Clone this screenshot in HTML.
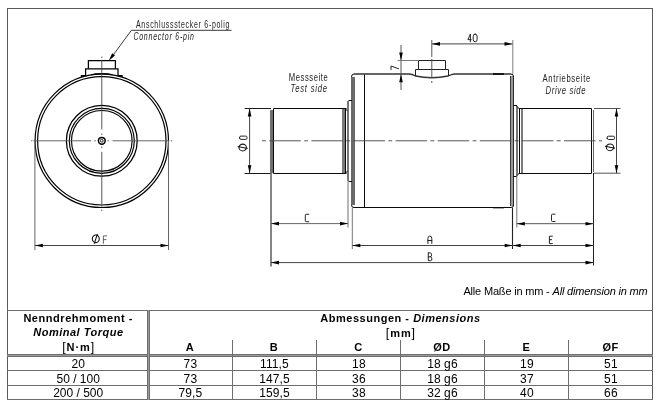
<!DOCTYPE html>
<html><head><meta charset="utf-8"><style>
html,body{margin:0;padding:0;background:#fff;}
svg{display:block;will-change:transform;font-family:"Liberation Sans",sans-serif;}
</style></head><body>
<svg width="660" height="408" viewBox="0 0 660 408">
<rect width="660" height="408" fill="#fff"/>
<g shape-rendering="crispEdges">
<line x1="7.5" y1="8" x2="7.5" y2="400" stroke="#5a5a5a" stroke-width="1" />
<line x1="652.5" y1="8" x2="652.5" y2="400" stroke="#5a5a5a" stroke-width="1" />
<line x1="7" y1="8.5" x2="653" y2="8.5" stroke="#5a5a5a" stroke-width="1" />
</g>
<g shape-rendering="crispEdges">
<line x1="7" y1="310.5" x2="653" y2="310.5" stroke="#6e6e6e" stroke-width="1" />
<line x1="7" y1="354.5" x2="653" y2="354.5" stroke="#6e6e6e" stroke-width="1" />
<line x1="7" y1="356.5" x2="653" y2="356.5" stroke="#6e6e6e" stroke-width="1" />
<line x1="7" y1="355.5" x2="653" y2="355.5" stroke="#9a9a9a" stroke-width="1" />
<line x1="7" y1="370.5" x2="653" y2="370.5" stroke="#6e6e6e" stroke-width="1" />
<line x1="7" y1="385.5" x2="653" y2="385.5" stroke="#6e6e6e" stroke-width="1" />
<line x1="7" y1="399.5" x2="653" y2="399.5" stroke="#6e6e6e" stroke-width="1" />
<line x1="147.5" y1="310" x2="147.5" y2="400" stroke="#6e6e6e" stroke-width="1" />
<line x1="149.5" y1="310" x2="149.5" y2="400" stroke="#6e6e6e" stroke-width="1" />
<line x1="148.5" y1="310" x2="148.5" y2="400" stroke="#9a9a9a" stroke-width="1" />
<line x1="232.5" y1="340" x2="232.5" y2="400" stroke="#6e6e6e" stroke-width="1" />
<line x1="316.5" y1="340" x2="316.5" y2="400" stroke="#6e6e6e" stroke-width="1" />
<line x1="400.5" y1="340" x2="400.5" y2="400" stroke="#6e6e6e" stroke-width="1" />
<line x1="484.5" y1="340" x2="484.5" y2="400" stroke="#6e6e6e" stroke-width="1" />
<line x1="568.5" y1="340" x2="568.5" y2="400" stroke="#6e6e6e" stroke-width="1" />
</g>
<g font-family="Liberation Sans, sans-serif">
<text x="78.2" y="322" font-size="11" font-weight="bold" font-style="normal" text-anchor="middle" fill="#000" letter-spacing="0.55" >Nenndrehmoment -</text>
<text x="78.4" y="336" font-size="11" font-weight="bold" font-style="italic" text-anchor="middle" fill="#000" letter-spacing="0.5" >Nominal Torque</text>
<text x="78.7" y="350.5" font-size="11" font-weight="bold" font-style="normal" text-anchor="middle" fill="#000" letter-spacing="0.95" ><tspan font-weight="normal" font-size="12.5">[</tspan>N·m<tspan font-weight="normal" font-size="12.5">]</tspan></text>
<text x="400.5" y="322" font-size="11" font-weight="bold" text-anchor="middle" letter-spacing="0.52">Abmessungen - <tspan font-style="italic">Dimensions</tspan></text>
<text x="400.9" y="336.5" font-size="11" font-weight="bold" font-style="normal" text-anchor="middle" fill="#000" letter-spacing="0.9" ><tspan font-weight="normal" font-size="12.5">[</tspan>mm<tspan font-weight="normal" font-size="12.5">]</tspan></text>
<text x="190" y="351" font-size="11" font-weight="bold" font-style="normal" text-anchor="middle" fill="#000" letter-spacing="0.45" >A</text>
<text x="274" y="351" font-size="11" font-weight="bold" font-style="normal" text-anchor="middle" fill="#000" letter-spacing="0.45" >B</text>
<text x="358.5" y="351" font-size="11" font-weight="bold" font-style="normal" text-anchor="middle" fill="#000" letter-spacing="0.45" >C</text>
<text x="442" y="351" font-size="11" font-weight="bold" font-style="normal" text-anchor="middle" fill="#000" letter-spacing="0.45" >ØD</text>
<text x="526.5" y="351" font-size="11" font-weight="bold" font-style="normal" text-anchor="middle" fill="#000" letter-spacing="0.45" >E</text>
<text x="610.5" y="351" font-size="11" font-weight="bold" font-style="normal" text-anchor="middle" fill="#000" letter-spacing="0.45" >ØF</text>
<text x="78.2" y="368" font-size="12" font-weight="normal" font-style="normal" text-anchor="middle" fill="#000" >20</text>
<text x="190.4" y="368" font-size="12" font-weight="normal" font-style="normal" text-anchor="middle" fill="#000" letter-spacing="0.1" >73</text>
<text x="274.4" y="368" font-size="12" font-weight="normal" font-style="normal" text-anchor="middle" fill="#000" letter-spacing="0.1" >111,5</text>
<text x="358.9" y="368" font-size="12" font-weight="normal" font-style="normal" text-anchor="middle" fill="#000" letter-spacing="0.1" >18</text>
<text x="442.4" y="368" font-size="12" font-weight="normal" font-style="normal" text-anchor="middle" fill="#000" letter-spacing="0.1" >18 g6</text>
<text x="526.9" y="368" font-size="12" font-weight="normal" font-style="normal" text-anchor="middle" fill="#000" letter-spacing="0.1" >19</text>
<text x="610.9" y="368" font-size="12" font-weight="normal" font-style="normal" text-anchor="middle" fill="#000" letter-spacing="0.1" >51</text>
<text x="78.2" y="382.5" font-size="12" font-weight="normal" font-style="normal" text-anchor="middle" fill="#000" >50 / 100</text>
<text x="190.4" y="382.5" font-size="12" font-weight="normal" font-style="normal" text-anchor="middle" fill="#000" letter-spacing="0.1" >73</text>
<text x="274.4" y="382.5" font-size="12" font-weight="normal" font-style="normal" text-anchor="middle" fill="#000" letter-spacing="0.1" >147,5</text>
<text x="358.9" y="382.5" font-size="12" font-weight="normal" font-style="normal" text-anchor="middle" fill="#000" letter-spacing="0.1" >36</text>
<text x="442.4" y="382.5" font-size="12" font-weight="normal" font-style="normal" text-anchor="middle" fill="#000" letter-spacing="0.1" >18 g6</text>
<text x="526.9" y="382.5" font-size="12" font-weight="normal" font-style="normal" text-anchor="middle" fill="#000" letter-spacing="0.1" >37</text>
<text x="610.9" y="382.5" font-size="12" font-weight="normal" font-style="normal" text-anchor="middle" fill="#000" letter-spacing="0.1" >51</text>
<text x="78.2" y="397" font-size="12" font-weight="normal" font-style="normal" text-anchor="middle" fill="#000" >200 / 500</text>
<text x="190.4" y="397" font-size="12" font-weight="normal" font-style="normal" text-anchor="middle" fill="#000" letter-spacing="0.1" >79,5</text>
<text x="274.4" y="397" font-size="12" font-weight="normal" font-style="normal" text-anchor="middle" fill="#000" letter-spacing="0.1" >159,5</text>
<text x="358.9" y="397" font-size="12" font-weight="normal" font-style="normal" text-anchor="middle" fill="#000" letter-spacing="0.1" >38</text>
<text x="442.4" y="397" font-size="12" font-weight="normal" font-style="normal" text-anchor="middle" fill="#000" letter-spacing="0.1" >32 g6</text>
<text x="526.9" y="397" font-size="12" font-weight="normal" font-style="normal" text-anchor="middle" fill="#000" letter-spacing="0.1" >40</text>
<text x="610.9" y="397" font-size="12" font-weight="normal" font-style="normal" text-anchor="middle" fill="#000" letter-spacing="0.1" >66</text>
<text x="647.5" y="295" font-size="11" text-anchor="end" letter-spacing="-0.18">Alle Maße in mm - <tspan font-style="italic">All dimension in mm</tspan></text>
</g>
<circle cx="101.8" cy="140.8" r="66.7" stroke="#000" stroke-width="1.2" fill="none"/>
<circle cx="101.8" cy="140.8" r="64.2" stroke="#000" stroke-width="1.2" fill="none"/>
<circle cx="101.8" cy="140.8" r="35.4" stroke="#000" stroke-width="1.25" fill="none"/>
<circle cx="101.8" cy="140.8" r="32.5" stroke="#000" stroke-width="1.15" fill="none"/>
<circle cx="101.8" cy="140.8" r="30.3" stroke="#000" stroke-width="1.15" fill="none"/>
<circle cx="101.8" cy="140.8" r="3.4" stroke="#000" stroke-width="1.5" fill="none"/>
<circle cx="101.8" cy="140.8" r="1.4" stroke="#222" stroke-width="1.0" fill="none"/>
<path d="M91,74.7 Q95,73.5 101.8,73.5 Q108.6,73.5 112.6,74.7" stroke="#000" stroke-width="1.1" fill="none" />
<path d="M81.5,77.2 L81.5,75.5 L85.6,75.5 L85.6,68.8 L118,68.8 L118,75.5 L122,75.5 L122,77.2" stroke="#000" stroke-width="1.25" fill="none" />
<path d="M88.4,68.8 L88.4,60.7 L115.4,60.7 L115.4,68.8" stroke="#000" stroke-width="1.25" fill="none" />
<path d="M31,140.8 L32.5,140.8 M33.5,140.8 L91.1,140.8 M94.4,140.8 L95.9,140.8 M107.5,140.8 L109,140.8 M112.5,140.8 L169,140.8 M170.7,140.8 L172.2,140.8" stroke="#555" stroke-width="0.9" fill="none" />
<path d="M101.8,56.6 L101.8,58.1 M101.8,59.9 L101.8,129.4 M101.8,133.6 L101.8,135.1 M101.8,146.5 L101.8,148 M101.8,151.8 L101.8,206.7 M101.8,209.5 L101.8,211" stroke="#444" stroke-width="0.9" fill="none" />
<path d="M231.5,30.3 L131.4,30.3 L111,58" stroke="#222" stroke-width="0.9" fill="none" />
<path d="M108.80,60.80 L112.12,53.30 L115.01,55.44 Z" fill="#000" stroke="none"/>
<g font-family="Liberation Sans, sans-serif" fill="#1a1a1a">
<text transform="translate(136,28.4) scale(0.7,1)" x="0" y="0" font-size="10" font-style="normal" fill="#222" textLength="133.57" lengthAdjust="spacing">Anschlussstecker 6-polig</text>
<text transform="translate(133.4,39.6) scale(0.7,1)" x="0" y="0" font-size="10" font-style="italic" fill="#222" textLength="86.43" lengthAdjust="spacing">Connector 6-pin</text>
</g>
<path d="M34.9,141 L34.9,250 M168.5,141 L168.5,250" stroke="#666" stroke-width="1.0" fill="none" />
<path d="M35,245.5 L168.5,245.5" stroke="#444" stroke-width="1.0" fill="none" />
<path d="M34.90,245.50 L42.90,243.70 L42.90,247.30 Z" fill="#000" stroke="none"/>
<path d="M168.50,245.50 L160.50,247.30 L160.50,243.70 Z" fill="#000" stroke="none"/>
<path d="M354,74.0 L409,74.0 Q412,74.2 415.5,76 Q431.8,79.5 448.2,76 Q451.5,74.2 454.5,74.0 L511,74.0" stroke="#333" stroke-width="1.35" fill="none" />
<path d="M493,74.0 L504,74.0" stroke="#000" stroke-width="1.5" fill="none" />
<path d="M493,208.2 L504,208.2" stroke="#777" stroke-width="0.9" fill="none" />
<path d="M354,207.5 L511,207.5" stroke="#0a0a0a" stroke-width="1.0" fill="none" />
<rect x="351" y="77" width="4" height="128" fill="#6a6a6a"/>
<path d="M351.5,77 Q351.5,74.0 354,74.0 M351.5,205 Q351.5,207.5 354,207.5" stroke="#0a0a0a" stroke-width="1.0" fill="none" />
<path d="M364.5,74.5 L364.5,207.5" stroke="#0a0a0a" stroke-width="1.0" fill="none" />
<rect x="510" y="76" width="4" height="130" fill="#9a9a9a"/>
<path d="M510.5,76 L510.5,206" stroke="#3a3a3a" stroke-width="1.0" fill="none" />
<path d="M513.5,76 L513.5,206" stroke="#2a2a2a" stroke-width="1.0" fill="none" />
<path d="M511,74.0 Q513.5,74.0 513.5,77 M511,207.5 Q513.5,207.5 513.5,205" stroke="#0a0a0a" stroke-width="1.0" fill="none" />
<path d="M352,100.5 L348.5,100.5 M352,181.5 L348.5,181.5" stroke="#0a0a0a" stroke-width="1.0" fill="none" />
<rect x="347" y="101" width="2" height="80" fill="#777"/>
<path d="M346.5,108.5 L273.5,108.5 M346.5,173.5 L273.5,173.5" stroke="#0a0a0a" stroke-width="1.0" fill="none" />
<path d="M343.7,108.5 L347.5,110.5 M343.7,173.5 L347.5,171.5" stroke="#0a0a0a" stroke-width="1.0" fill="none" />
<rect x="270" y="110" width="3" height="63" fill="#707070"/>
<path d="M273.5,108.5 L273.5,173.5" stroke="#0a0a0a" stroke-width="1.0" fill="none" />
<rect x="342" y="109" width="3" height="64" fill="#7a7a7a"/>
<path d="M345.5,109 L345.5,173" stroke="#0a0a0a" stroke-width="1.0" fill="none" />
<path d="M513.5,105.5 L517,105.5 M513.5,176.5 L517,176.5" stroke="#0a0a0a" stroke-width="1.0" fill="none" />
<rect x="516" y="106" width="2" height="70" fill="#777"/>
<path d="M519,108.5 L591.5,108.5 M519,173.5 L591.5,173.5" stroke="#0a0a0a" stroke-width="1.0" fill="none" />
<path d="M517,106.5 L519.5,109 M517,175.5 L519.5,173" stroke="#0a0a0a" stroke-width="1.0" fill="none" />
<path d="M519.5,108.5 L519.5,173.5 M591.5,108.5 L591.5,173.5" stroke="#0a0a0a" stroke-width="1.0" fill="none" />
<rect x="521" y="109" width="2" height="64" fill="#7a7a7a"/>
<path d="M593.5,110 L593.5,172" stroke="#666" stroke-width="1.0" fill="none" />
<path d="M415.5,76 L415.5,69.5 L448.5,69.5 L448.5,76" stroke="#222" stroke-width="1.0" fill="none" />
<path d="M418.5,69.5 L418.5,60.5 L445.5,60.5 L445.5,69.5" stroke="#222" stroke-width="1.0" fill="none" />
<path d="M262.1,140.8 L602,140.8" stroke="#444" stroke-width="0.9" fill="none" stroke-dasharray="3.8 3.4 31.5 3.4"/>
<path d="M431.8,40 L431.8,57 M431.8,59 L431.8,78 M431.8,81 L431.8,83" stroke="#444" stroke-width="0.9" fill="none" />
<path d="M512.8,40 L512.8,74" stroke="#888" stroke-width="1.1" fill="none" />
<path d="M432,43.9 L512.5,43.9" stroke="#444" stroke-width="1.0" fill="none" />
<path d="M432.00,43.90 L440.00,42.10 L440.00,45.70 Z" fill="#000" stroke="none"/>
<path d="M512.50,43.90 L504.50,45.70 L504.50,42.10 Z" fill="#000" stroke="none"/>
<path d="M401,45 L401,90" stroke="#555" stroke-width="1.0" fill="none" />
<path d="M397.5,60.5 L418.5,60.5" stroke="#777" stroke-width="1.0" fill="none" />
<path d="M401.00,60.50 L399.20,52.50 L402.80,52.50 Z" fill="#000" stroke="none"/>
<path d="M401.00,74.30 L402.80,82.30 L399.20,82.30 Z" fill="#000" stroke="none"/>
<path d="M244.6,108.5 L271,108.5 M244.6,173.5 L271,173.5" stroke="#1a1a1a" stroke-width="1.0" fill="none" />
<path d="M249.6,108.5 L249.6,173.2" stroke="#444" stroke-width="1.0" fill="none" />
<path d="M249.60,108.50 L251.40,116.50 L247.80,116.50 Z" fill="#000" stroke="none"/>
<path d="M249.60,173.20 L247.80,165.20 L251.40,165.20 Z" fill="#000" stroke="none"/>
<path d="M594,108.5 L620.5,108.5 M594,173.2 L620.5,173.2" stroke="#555" stroke-width="1.0" fill="none" />
<path d="M616.5,108.5 L616.5,173.2" stroke="#444" stroke-width="1.0" fill="none" />
<path d="M616.50,108.50 L618.30,116.50 L614.70,116.50 Z" fill="#000" stroke="none"/>
<path d="M616.50,173.20 L614.70,165.20 L618.30,165.20 Z" fill="#000" stroke="none"/>
<path d="M271,173 L271,266.5" stroke="#666" stroke-width="1.6" fill="none" />
<path d="M348,181.5 L348,227.5" stroke="#888" stroke-width="1.2" fill="none" />
<path d="M352.3,207.5 L352.3,249" stroke="#777" stroke-width="1.0" fill="none" />
<path d="M512.5,207.5 L512.5,249" stroke="#222" stroke-width="1.1" fill="none" />
<path d="M516.8,173 L516.8,227.5" stroke="#777" stroke-width="1.0" fill="none" />
<path d="M593.5,173 L593.5,265.5" stroke="#222" stroke-width="1.0" fill="none" />
<path d="M271,223.6 L348,223.6" stroke="#666" stroke-width="1.0" fill="none" />
<path d="M271.00,223.60 L279.00,221.80 L279.00,225.40 Z" fill="#000" stroke="none"/>
<path d="M348.00,223.60 L340.00,225.40 L340.00,221.80 Z" fill="#000" stroke="none"/>
<path d="M352.3,245.5 L593.5,245.5" stroke="#444" stroke-width="1.0" fill="none" />
<path d="M352.30,245.50 L360.30,243.70 L360.30,247.30 Z" fill="#000" stroke="none"/>
<path d="M512.70,245.50 L504.70,247.30 L504.70,243.70 Z" fill="#000" stroke="none"/>
<path d="M512.70,245.50 L520.70,243.70 L520.70,247.30 Z" fill="#000" stroke="none"/>
<path d="M593.50,245.50 L585.50,247.30 L585.50,243.70 Z" fill="#000" stroke="none"/>
<path d="M516.8,223.7 L593.5,223.7" stroke="#555" stroke-width="1.0" fill="none" />
<path d="M516.80,223.70 L524.80,221.90 L524.80,225.50 Z" fill="#000" stroke="none"/>
<path d="M593.50,223.70 L585.50,225.50 L585.50,221.90 Z" fill="#000" stroke="none"/>
<path d="M271,262.6 L593.5,262.6" stroke="#444" stroke-width="1.0" fill="none" />
<path d="M271.00,262.60 L279.00,260.80 L279.00,264.40 Z" fill="#000" stroke="none"/>
<path d="M593.50,262.60 L585.50,264.40 L585.50,260.80 Z" fill="#000" stroke="none"/>
<g font-family="Liberation Sans, sans-serif" fill="#1a1a1a">
<text transform="translate(288.8,81) scale(0.7,1)" x="0" y="0" font-size="11" font-style="normal" fill="#222" textLength="55.71" lengthAdjust="spacing">Messseite</text>
<text transform="translate(290.5,92.4) scale(0.7,1)" x="0" y="0" font-size="11" font-style="italic" fill="#222" textLength="52.14" lengthAdjust="spacing">Test side</text>
<text transform="translate(542.5,81.9) scale(0.7,1)" x="0" y="0" font-size="11" font-style="normal" fill="#222" textLength="68.14" lengthAdjust="spacing">Antriebseite</text>
<text transform="translate(545.5,93.7) scale(0.7,1)" x="0" y="0" font-size="11" font-style="italic" fill="#222" textLength="57.14" lengthAdjust="spacing">Drive side</text>
</g>
<path transform="translate(467.9,34.1)" d="M2.4749999999999996,7.7 L2.4749999999999996,0 L0,5.544 L3.3,5.544" stroke="#1a1a1a" stroke-width="0.95" fill="none" stroke-linecap="round" stroke-linejoin="round"/>
<path transform="translate(473.2,34.1)" d="M1.95,0 Q3.9,0 3.9,2.31 L3.9,5.39 Q3.9,7.7 1.95,7.7 Q0,7.7 0,5.39 L0,2.31 Q0,0 1.95,0 Z" stroke="#1a1a1a" stroke-width="0.95" fill="none" stroke-linecap="round" stroke-linejoin="round"/>
<path transform="translate(305.3,214.3)" d="M3.5,0 L0.9,0 Q0,0 0,0.9 L0,6.5 Q0,7.4 0.9,7.4 L3.5,7.4" stroke="#1a1a1a" stroke-width="0.95" fill="none" stroke-linecap="round" stroke-linejoin="round"/>
<path transform="translate(551.5,214.2)" d="M3.5,0 L0.9,0 Q0,0 0,0.9 L0,6.3999999999999995 Q0,7.3 0.9,7.3 L3.5,7.3" stroke="#1a1a1a" stroke-width="0.95" fill="none" stroke-linecap="round" stroke-linejoin="round"/>
<path transform="translate(427.9,236)" d="M0,7.5 L0,2.625 Q0,0 1.95,0 Q3.9,0 3.9,2.625 L3.9,7.5 M0,4.5 L3.9,4.5" stroke="#1a1a1a" stroke-width="0.95" fill="none" stroke-linecap="round" stroke-linejoin="round"/>
<path transform="translate(428.3,252.9)" d="M0,0 L0,7.8 L2.16,7.8 Q3.6,7.8 3.6,6.084 Q3.6,3.9 2.16,3.9 L0,3.9 M1.9800000000000002,3.9 Q3.3120000000000003,3.9 3.3120000000000003,1.95 Q3.3120000000000003,0 1.9800000000000002,0 L0,0" stroke="#1a1a1a" stroke-width="0.95" fill="none" stroke-linecap="round" stroke-linejoin="round"/>
<path transform="translate(549.4,236.2)" d="M3.0,0 L0,0 L0,7.4 L3.0,7.4 M0,3.4779999999999998 L2.25,3.4779999999999998" stroke="#1a1a1a" stroke-width="0.95" fill="none" stroke-linecap="round" stroke-linejoin="round"/>
<path transform="translate(103.4,235.9)" d="M3.3,0 L0,0 L0,7.4 M0,3.7 L2.64,3.7" stroke="#555" stroke-width="0.9" fill="none" stroke-linecap="round" stroke-linejoin="round"/>
<g transform="translate(95.8,238.8) rotate(0)"><ellipse cx="0" cy="0" rx="3.5" ry="3.8" stroke="#111" stroke-width="1.05" fill="none"/><path d="M1.6,-5.0 L-1.6,5.0" stroke="#111" stroke-width="1.05"/></g>
<path transform="translate(391,69.7) rotate(-90)" d="M0,0 L3.7,0 L0.925,7.7" stroke="#1a1a1a" stroke-width="0.95" fill="none" stroke-linecap="round" stroke-linejoin="round"/>
<path transform="translate(239.6,139.4) rotate(-90)" d="M1.3,0 L1.9999999999999998,0 Q3.3,0 3.3,1.3 L3.3,6.1000000000000005 Q3.3,7.4 1.9999999999999998,7.4 L1.3,7.4 Q0,7.4 0,6.1000000000000005 L0,1.3 Q0,0 1.3,0 Z" stroke="#1a1a1a" stroke-width="0.95" fill="none" stroke-linecap="round" stroke-linejoin="round"/>
<g transform="translate(242.7,147.5) rotate(-90)"><ellipse cx="0" cy="0" rx="3.4" ry="3.7" stroke="#111" stroke-width="1.05" fill="none"/><path d="M1.0,-5.0 L-1.0,5.0" stroke="#111" stroke-width="1.05"/></g>
<path transform="translate(607.2,139.5) rotate(-90)" d="M1.3,0 L1.9999999999999998,0 Q3.3,0 3.3,1.3 L3.3,6.1000000000000005 Q3.3,7.4 1.9999999999999998,7.4 L1.3,7.4 Q0,7.4 0,6.1000000000000005 L0,1.3 Q0,0 1.3,0 Z" stroke="#1a1a1a" stroke-width="0.95" fill="none" stroke-linecap="round" stroke-linejoin="round"/>
<g transform="translate(610.0,147.3) rotate(-90)"><ellipse cx="0" cy="0" rx="3.4" ry="3.7" stroke="#111" stroke-width="1.05" fill="none"/><path d="M1.0,-5.0 L-1.0,5.0" stroke="#111" stroke-width="1.05"/></g>
</svg></body></html>
